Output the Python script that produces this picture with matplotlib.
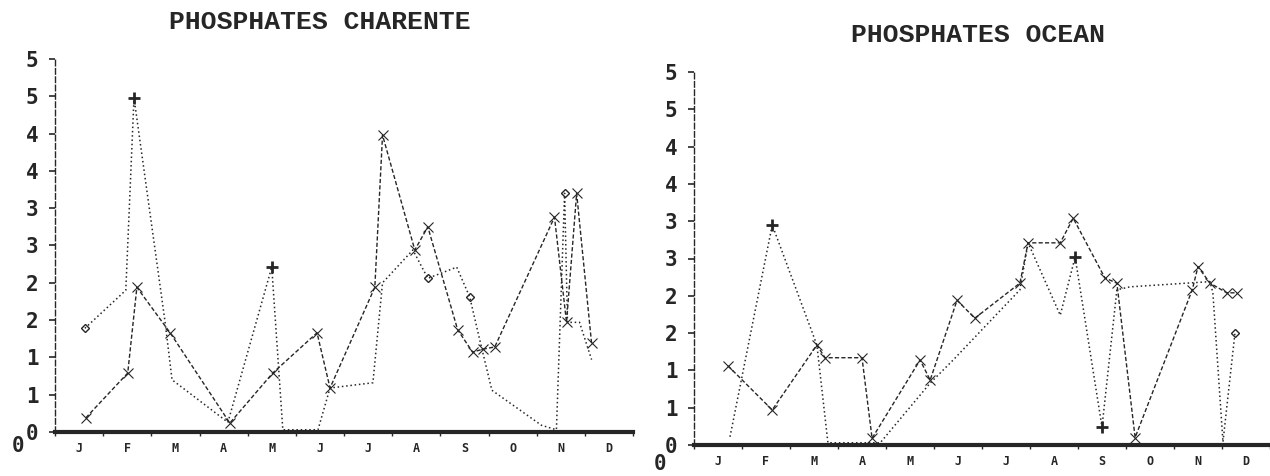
import matplotlib
matplotlib.use("Agg")
import matplotlib.pyplot as plt
import numpy as np

# ---------------- data ----------------
months = ["J", "F", "M", "A", "M", "J", "J", "A", "S", "O", "N", "D"]
y_ticks = [0, 0.5, 1, 1.5, 2, 2.5, 3, 3.5, 4, 4.5, 5]
y_tick_labels = ["0", "1", "1", "2", "2", "3", "3", "4", "4", "5", "5"]

# CHARENTE - series 1 (dashed, x markers): time in months, value
char_s1_t = [0.64, 1.51, 1.70, 2.39, 3.63, 4.52, 5.44, 5.71, 6.64, 6.80, 7.47, 7.74,
             8.36, 8.67, 8.88, 9.13, 10.37, 10.62, 10.83, 11.14]
char_s1_v = [0.19, 0.79, 1.94, 1.33, 0.12, 0.79, 1.33, 0.59, 1.94, 3.98, 2.44, 2.75,
             1.37, 1.07, 1.11, 1.14, 2.88, 1.47, 3.20, 1.19]
# CHARENTE - series 2 (dotted)
char_s2_t = [0.62, 1.47, 1.64, 2.28, 2.43, 3.59, 4.50, 4.73, 5.46, 5.71, 6.60, 6.80,
             7.43, 7.74, 8.34, 8.61, 8.82, 9.07, 10.10, 10.41, 10.58, 10.64, 10.89, 11.14]
char_s2_v = [1.39, 1.90, 4.48, 1.50, 0.70, 0.13, 2.21, 0.03, 0.03, 0.59, 0.66, 2.00,
             2.44, 2.06, 2.21, 1.81, 1.23, 0.56, 0.09, 0.03, 3.20, 1.47, 1.47, 0.97]
char_plus_idx = [2, 6]
char_diam_idx = [0, 13, 15, 20]

# OCEAN - series 1 (dashed, x markers)
oce_s1_t = [0.71, 1.63, 2.56, 2.73, 3.50, 3.71, 4.71, 4.92, 5.48, 5.85, 6.79, 6.96,
            7.63, 7.90, 8.56, 8.81, 9.19, 10.38, 10.50, 10.75, 11.10, 11.31]
oce_s1_v = [1.06, 0.47, 1.34, 1.17, 1.17, 0.09, 1.14, 0.87, 1.94, 1.70, 2.17, 2.71,
            2.71, 3.04, 2.24, 2.17, 0.10, 2.08, 2.39, 2.17, 2.04, 2.04]
# OCEAN - series 2 (dotted)
oce_s2_t = [0.75, 1.63, 2.56, 2.79, 3.88, 4.92, 5.40, 6.79, 6.96, 7.63, 7.94, 8.50,
            8.81, 9.08, 10.75, 10.81, 11.02, 11.27]
oce_s2_v = [0.11, 2.95, 1.34, 0.03, 0.03, 0.83, 1.14, 2.08, 2.71, 1.74, 2.52, 0.24,
            2.08, 2.12, 2.19, 2.04, 0.04, 1.50]
oce_plus_idx = [1, 10, 11]
oce_diam_idx = [17]

ink = "#262626"

fig = plt.figure(figsize=(12.7, 4.76), dpi=100)
W, H = 1270, 476


def make_axes(x0, x1, y0, y5):
    return fig.add_axes([x0 / W, (H - y0) / H, (x1 - x0) / W, (y0 - y5) / H])


def style_axes(ax, title, title_xy, zero_xy):
    ax.set_xlim(0, 12)
    ax.set_ylim(0, 5)
    for s in ("top", "right"):
        ax.spines[s].set_visible(False)
    ax.spines["bottom"].set_linewidth(3)
    ax.spines["bottom"].set_color(ink)
    ax.spines["left"].set_linewidth(1.0)
    ax.spines["left"].set_linestyle((0, (4, 2)))
    ax.spines["left"].set_color(ink)
    ax.set_yticks(y_ticks)
    ax.set_yticklabels(y_tick_labels, fontfamily="DejaVu Sans Mono",
                       fontweight="bold", fontsize=15, color=ink)
    ax.tick_params(axis="y", direction="out", length=4, width=1.2, pad=8, color=ink)
    ax.set_xticks(np.arange(0, 13))
    ax.set_xticklabels([])
    ax.tick_params(axis="x", which="major", direction="out", length=3, width=1, color=ink)
    ax.set_xticks(np.arange(12) + 0.5, minor=True)
    ax.set_xticklabels(months, minor=True, fontfamily="DejaVu Sans Mono",
                       fontweight="bold", fontsize=8.5, color=ink)
    ax.tick_params(axis="x", which="minor", length=0, pad=7)
    ax.patch.set_alpha(0)
    fig.text(title_xy[0] / W, 1 - title_xy[1] / H, title, ha="center", va="center",
             fontfamily="Liberation Mono", fontweight="bold", fontsize=19, color=ink)
    fig.text(zero_xy[0] / W, 1 - zero_xy[1] / H, "0", ha="center", va="center",
             fontfamily="DejaVu Sans Mono", fontweight="bold", fontsize=15, color=ink)


def draw(ax, t1, v1, t2, v2, plus_idx, diam_idx):
    ax.plot(t1, v1, color=ink, lw=1.0, linestyle=(0, (3, 1.6)), marker="x",
            markersize=7, markeredgewidth=0.8, clip_on=False, zorder=3)
    ax.plot(t2, v2, color=ink, lw=1.1, linestyle=(0, (1, 1.8)), clip_on=False, zorder=2)
    ax.plot(t2, v2, linestyle="none", marker="+", markersize=8, markeredgewidth=2,
            color=ink, markevery=plus_idx, clip_on=False, zorder=4)
    ax.plot(t2, v2, linestyle="none", marker="D", markersize=4.5, markeredgewidth=1,
            markerfacecolor="none", markeredgecolor=ink, markevery=diam_idx,
            clip_on=False, zorder=4)


ax1 = make_axes(55, 633, 432, 59)
style_axes(ax1, "PHOSPHATES CHARENTE", (320, 22), (18, 446))
draw(ax1, char_s1_t, char_s1_v, char_s2_t, char_s2_v, char_plus_idx, char_diam_idx)

ax2 = make_axes(694, 1270, 445, 72)
style_axes(ax2, "PHOSPHATES OCEAN", (978, 35), (660, 464))
draw(ax2, oce_s1_t, oce_s1_v, oce_s2_t, oce_s2_v, oce_plus_idx, oce_diam_idx)

fig.savefig("out.png", dpi=100, facecolor="white")
